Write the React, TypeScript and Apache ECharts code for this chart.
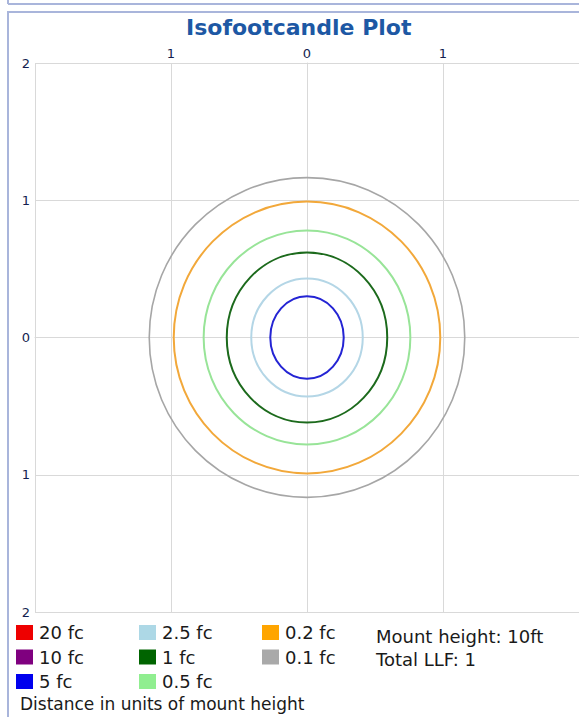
import React, { useEffect, useRef } from "react";
import * as echarts from "echarts";

// Isofootcandle levels (legend order) and their colours
const levelNames = ["20 fc", "10 fc", "5 fc", "2.5 fc", "1 fc", "0.5 fc", "0.2 fc", "0.1 fc"];
const levelColors = ["#ee0000", "#7f007f", "#0000ee", "#add8e6", "#006400", "#90ee90", "#ffa500", "#a9a9a9"];
const lineColors = ["#ee0000", "#7f007f", "#2424d4", "#b4d6e6", "#1c6a1c", "#98e498", "#f2a83a", "#a6a6a6"];
// contour half-width / half-height in units of mount height (null = level not reached)
const radiusX: (number | null)[] = [null, null, 0.27, 0.41, 0.59, 0.76, 0.98, 1.16];
const radiusY: (number | null)[] = [null, null, 0.3, 0.43, 0.62, 0.78, 0.99, 1.165];
const centerX = 0;
const centerY = 0;
// legend layout columns
const legendColumns = [
  ["20 fc", "10 fc", "5 fc"],
  ["2.5 fc", "1 fc", "0.5 fc"],
  ["0.2 fc", "0.1 fc"],
];
const infoLines = ["Mount height: 10ft", "Total LLF: 1"];
const footerText = "Distance in units of mount height";
const titleText = "Isofootcandle Plot";

const FONT = "DejaVu Sans";

export default function App() {
  const ref = useRef<HTMLDivElement>(null);
  useEffect(() => {
    if (!ref.current) return;
    const chart = echarts.init(ref.current, undefined, { renderer: "svg" });
    const gridColor = "#d9d9d9";
    const labelColor = "#141e50";
    const textColor = "#1a1a1a";
    const series = levelNames.map((name, i) => ({
      type: "custom" as const,
      name,
      coordinateSystem: "cartesian2d",
      itemStyle: { color: levelColors[i] },
      silent: true,
      clip: true,
      data: radiusX[i] == null ? [] : [[centerX, centerY, radiusX[i], radiusY[i]]],
      renderItem: (params: any, api: any) => {
        const c = api.coord([api.value(0), api.value(1)]);
        const s = api.size([api.value(2), api.value(3)]);
        return {
          type: "ellipse",
          shape: { cx: c[0], cy: c[1], rx: s[0], ry: s[1] },
          style: { fill: "none", stroke: lineColors[i], lineWidth: i === 7 ? 1.6 : 2 },
        };
      },
    }));
    const legendLefts = [16, 139, 262];
    const legends = legendColumns.map((col, k) => ({
      orient: "vertical" as const,
      left: legendLefts[k],
      top: 623.5,
      padding: 0,
      data: col,
      icon: "rect",
      itemWidth: 17,
      itemHeight: 15,
      itemGap: 6.5,
      selectedMode: false,
      textStyle: { fontFamily: FONT, fontSize: 18, lineHeight: 18, color: textColor, padding: [0, 0, 0, 1] },
    }));
    chart.setOption({
      animation: false,
      backgroundColor: "#ffffff",
      title: {
        text: titleText,
        left: 181,
        top: 11,
        textStyle: { fontFamily: FONT, fontSize: 22, fontWeight: "bold", color: "#1d58a4" },
      },
      grid: { left: 35, top: 63, width: 547, height: 549, containLabel: false },
      xAxis: {
        type: "value",
        position: "top",
        min: -2,
        max: 2,
        interval: 1,
        axisLine: { show: true, lineStyle: { color: gridColor } },
        axisTick: { show: true, length: 4, lineStyle: { color: gridColor } },
        axisLabel: {
          showMinLabel: false,
          showMaxLabel: false,
          margin: 3,
          formatter: (v: number) => String(Math.abs(v)),
          color: labelColor,
          fontFamily: FONT,
          fontSize: 13,
        },
        splitLine: { show: true, lineStyle: { color: gridColor } },
      },
      yAxis: {
        type: "value",
        position: "left",
        min: -2,
        max: 2,
        interval: 1,
        axisLine: { show: true, lineStyle: { color: gridColor } },
        axisTick: { show: false },
        axisLabel: {
          margin: 5,
          formatter: (v: number) => String(Math.abs(v)),
          color: labelColor,
          fontFamily: FONT,
          fontSize: 13,
        },
        splitLine: { show: true, lineStyle: { color: gridColor } },
      },
      legend: legends,
      series,
      graphic: [
        { type: "line", shape: { x1: 8, y1: 4, x2: 579, y2: 4 }, style: { stroke: "#a9b5db", lineWidth: 2 }, silent: true },
        { type: "line", shape: { x1: 8, y1: 0, x2: 8, y2: 4 }, style: { stroke: "#a9b5db", lineWidth: 2 }, silent: true },
        { type: "rect", shape: { x: 8, y: 12, width: 600, height: 720 }, style: { fill: "none", stroke: "#a9b5db", lineWidth: 2 }, silent: true, z: -1 },
        ...infoLines.map((t, k) => ({
          type: "text",
          x: 376,
          y: 636 + k * 23,
          style: { text: t, fontFamily: FONT, fontSize: 18, fill: textColor, verticalAlign: "middle", align: "left" },
          silent: true,
        })),
        {
          type: "text",
          x: 20,
          y: 704,
          style: { text: footerText, fontFamily: FONT, fontSize: 17, fill: textColor, verticalAlign: "middle", align: "left" },
          silent: true,
        },
      ],
    });
    return () => chart.dispose();
  }, []);
  return (
    <div
      ref={ref}
      style={{ position: "absolute", left: 0, top: 0, width: 579, height: 717, background: "#fff" }}
    />
  );
}
